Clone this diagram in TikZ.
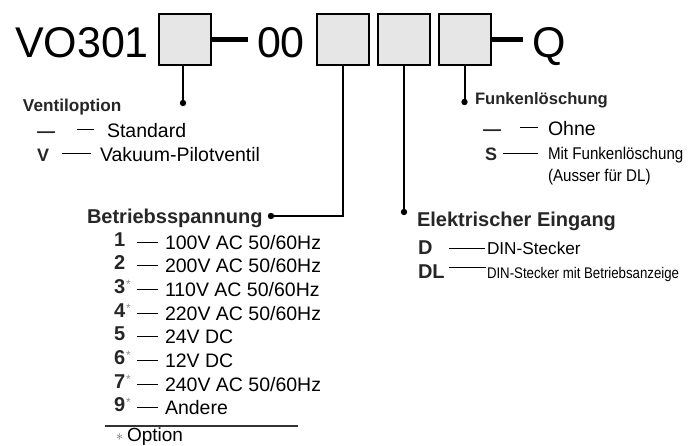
\documentclass[tikz,border=0pt]{standalone}
\usepackage{fontspec}
\setmainfont{Liberation Sans}
\usepackage{graphicx}
\newcommand\fsz[1]{\fontsize{#1}{#1}\selectfont}
\definecolor{boxgray}{HTML}{E6E6E6}
\definecolor{inkgray}{HTML}{262626}
\begin{document}
\begin{tikzpicture}[x=1pt,y=-1pt,
  lbl/.style={anchor=base west, inner sep=0pt, outer sep=0pt},
  big/.style={lbl, font=\fsz{43}},
  head/.style={lbl, font=\bfseries\fsz{20}, text=inkgray},
  headsm/.style={lbl, font=\bfseries\fsz{#1}, text=inkgray},
  keyl/.style={lbl, font=\bfseries\fsz{20}, text=inkgray},
  item/.style={lbl, font=\fsz{19.5}},
  star/.style={lbl, font=\fsz{12}, text=black!45},
  codebox/.style={draw, line width=2pt, fill=boxgray, minimum width=52pt, minimum height=51pt, inner sep=0pt},
  conn/.style={line width=2pt},
  bar/.style={line width=4.5pt},
  thinl/.style={line width=0.9pt}]
\useasboundingbox (0,0) rectangle (699,445);

% code line
\node[big] (vo) at (15,57) {VO301};
\node[codebox] (b1) at (185,39.5) {};
\node[big] (zz) at (257,57) {00};
\node[codebox] (b2) at (343,39.5) {};
\node[codebox] (b3) at (404,39.5) {};
\node[codebox] (b4) at (464.5,39.5) {};
\node[big] (q) at (532,57) {Q};
\coordinate (e1) at (248,39.5);
\coordinate (e4) at (523,39.5);
\draw[bar] (b1.east) -- (e1);
\draw[bar] (b4.east) -- (e4);

% connector end points
\coordinate (d1) at (183,103);
\coordinate (d2) at (271,216);
\coordinate (d3) at (404,212);
\coordinate (d4) at (464.5,102);
\draw[conn] (b1.south -| d1) -- (d1);
\draw[conn] (b2.south) |- (d2);
\draw[conn] (b3.south) -- (d3);
\draw[conn] (b4.south) -- (d4);
\foreach \d in {d1,d2,d3,d4} \fill (\d) circle (3.2pt);

% Ventiloption
\node[headsm=17.2] (hv) at (23,111) {Ventiloption};
\node[lbl, font=\bfseries\fsz{18}, text=inkgray] (kv0) at (37,137) {—};
\draw[thinl] (77,129.5) -- (94,129.5);
\node[item] (tv0) at (107,137) {Standard};
\node[lbl, font=\bfseries\fsz{18}, text=inkgray] (kv1) at (37,161) {V};
\draw[thinl] (62,153.5) -- (91,153.5);
\node[item] (tv1) at (100,161) {Vakuum-Pilotventil};

% Funkenloeschung
\node[headsm=16.6] (hf) at (475,104) {Funkenlöschung};
\node[lbl, font=\bfseries\fsz{18}, text=inkgray] (kf0) at (483,135) {—};
\draw[thinl] (520,127.5) -- (538,127.5);
\node[item] (tf0) at (548,135) {Ohne};
\node[lbl, font=\bfseries\fsz{18}, text=inkgray] (kf1) at (485,160) {S};
\draw[thinl] (503,153) -- (538,153);
\node[lbl, font=\fsz{17}] (tf1) at (548,159) {\scalebox{0.89}[1]{Mit Funkenlöschung}};
\node[lbl, font=\fsz{17}] (tf2) at (548,181) {\scalebox{0.89}[1]{(Ausser für DL)}};

% Betriebsspannung
\node[head] (hb) at (87,223) {Betriebsspannung};
\foreach \n/\s/\t [count=\i from 0] in {1//{100V AC 50/60Hz}, 2//{200V AC 50/60Hz}, 3/*/{110V AC 50/60Hz}, 4/*/{220V AC 50/60Hz}, 5//{24V DC}, 6/*/{12V DC}, 7/*/{240V AC 50/60Hz}, 9/*/{Andere}}{
  \pgfmathsetmacro{\b}{249+23.7*\i}
  \node[keyl] (kb\i) at (114,\b-3) {\n};
  \node[star] (sb\i) at (126,\b-8) {\s};
  \draw[thinl] (137,\b-7) -- (158,\b-7);
  \node[item] (tb\i) at (165,\b) {\t};
}
\draw[line width=1.1pt, black!80] (105,426) -- (298,426);
\node[lbl, font=\fsz{14}, text=black!60] (fs) at (116,440) {$\ast$};
\node[lbl, font=\fsz{19}] (fo) at (127,441) {Option};

% Elektrischer Eingang
\node[head] (he) at (417,226) {Elektrischer Eingang};
\node[keyl] (ke0) at (418,254) {D};
\draw[thinl] (449,248) -- (485,248);
\node[lbl, font=\fsz{17.2}] (te0) at (487,254) {DIN-Stecker};
\node[keyl] (ke1) at (418,278) {DL};
\draw[thinl] (449,267) -- (486,267);
\node[lbl, font=\fsz{15.4}] (te1) at (487,278) {\scalebox{0.86}[1]{DIN-Stecker mit Betriebsanzeige}};
\end{tikzpicture}
\end{document}
